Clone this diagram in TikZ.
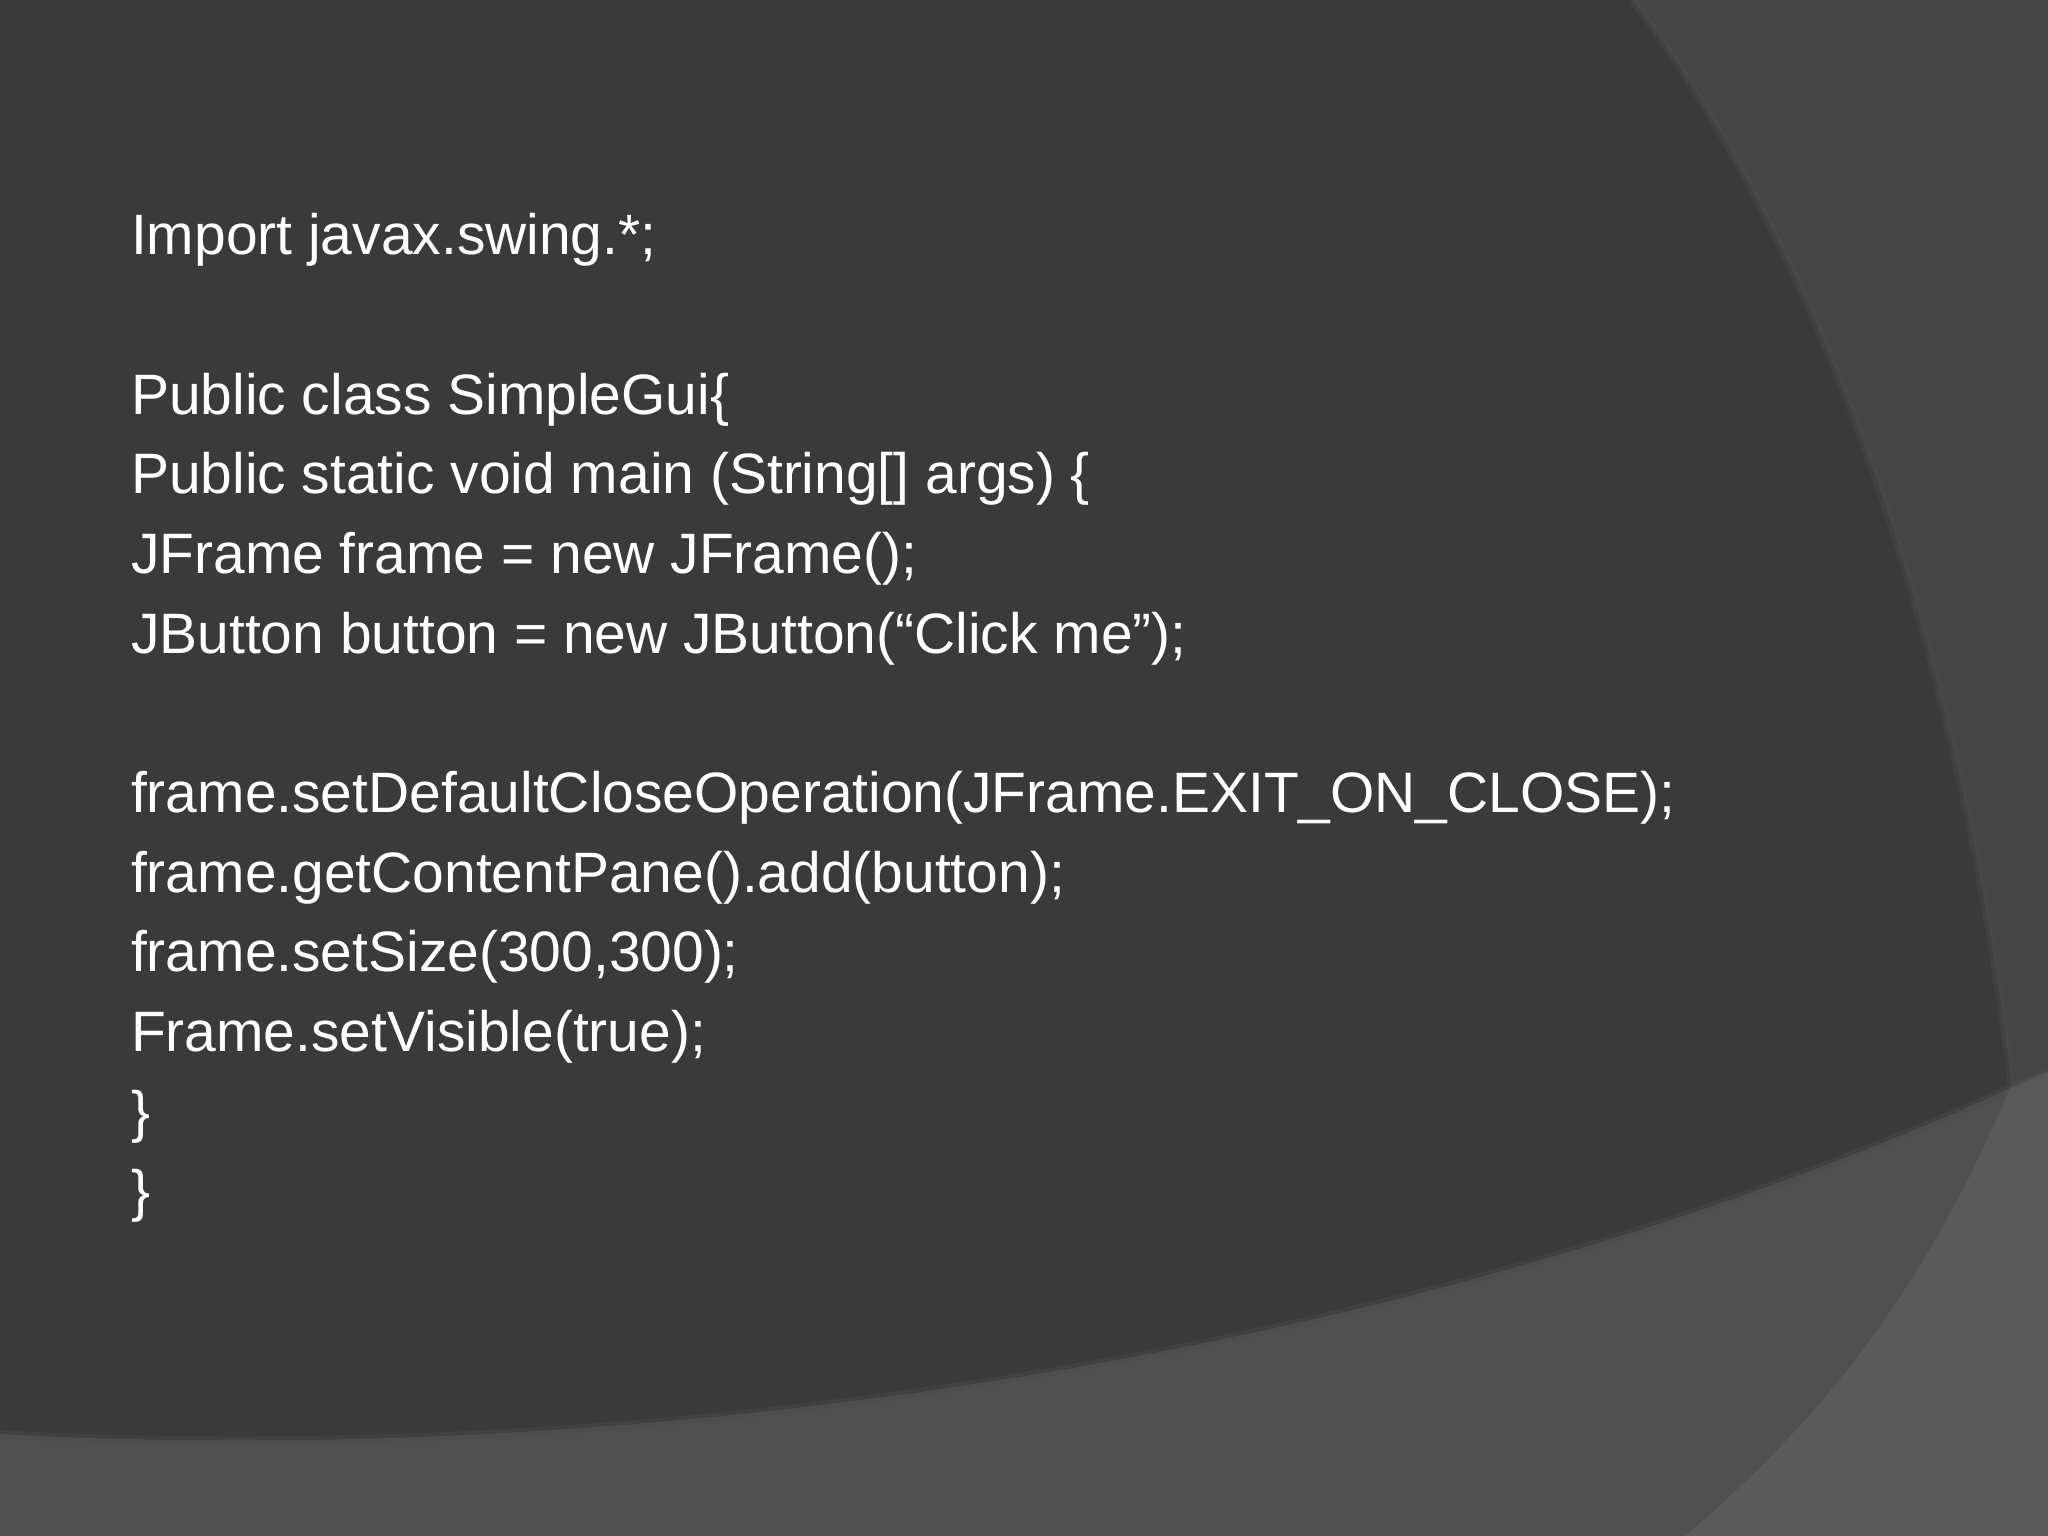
\documentclass[tikz,border=0pt]{standalone}
\usepackage{fontspec}
\setmainfont{Liberation Sans}
\definecolor{bgmain}{HTML}{3A3A3A}
\definecolor{bgright}{HTML}{464646}
\definecolor{bgbottom}{HTML}{505050}
\begin{document}
\begin{tikzpicture}[x=0.5pt,y=-0.5pt,
  codeline/.style={anchor=base west,text=white,font=\fontsize{21.8}{25}\selectfont,inner sep=0pt}]
\useasboundingbox (0,0) rectangle (1568,1176);
\fill[bgmain] (0,0) rectangle (1568,1176);
% right panel
\fill[bgright] (1250,0) .. controls (1400,200) and (1500,500) .. (1540,830) -- (1568,820) -- (1568,0) -- cycle;
\draw[black!70,line width=3pt,opacity=0.4] (1250,0) .. controls (1400,200) and (1500,500) .. (1540,830);
% bottom panel
\fill[bgbottom] (0,1098) .. controls (500,1125) and (1100,1040) .. (1568,820) -- (1568,1176) -- (0,1176) -- cycle;
\draw[black!70,line width=3pt,opacity=0.4] (0,1098) .. controls (500,1125) and (1100,1040) .. (1568,820);
% lower right faint curve
\fill[white,opacity=0.06] (1540,830) .. controls (1470,1000) and (1380,1100) .. (1290,1176) -- (1568,1176) -- (1568,820) -- cycle;
\node[codeline] (l1) at (100,195) {Import javax.swing.*;};
\node[codeline] (l2) at (100,317) {Public class SimpleGui\{};
\node[codeline] (l3) at (100,378) {Public static void main (String[] args) \{};
\node[codeline] (l4) at (100,439) {JFrame frame = new JFrame();};
\node[codeline] (l5) at (100,500) {JButton button = new JButton(“Click me”);};
\node[codeline] (l6) at (100,622) {frame.setDefaultCloseOperation(JFrame.EXIT\_ON\_CLOSE);};
\node[codeline] (l7) at (100,683) {frame.getContentPane().add(button);};
\node[codeline] (l8) at (100,744) {frame.setSize(300,300);};
\node[codeline] (l9) at (100,805) {Frame.setVisible(true);};
\node[codeline] (l10) at (100,866) {\}};
\node[codeline] (l11) at (100,927) {\}};
\end{tikzpicture}
\end{document}
